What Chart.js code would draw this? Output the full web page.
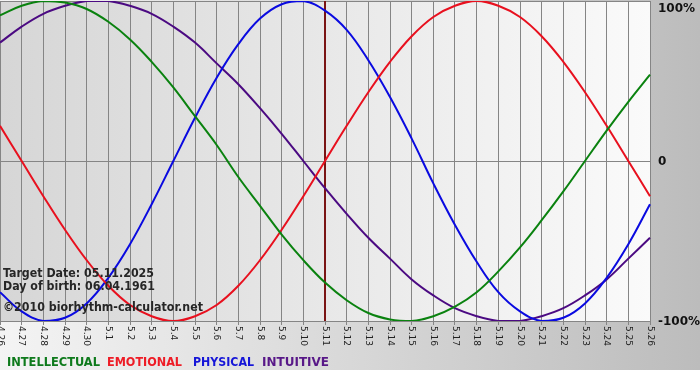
<!DOCTYPE html>
<html>
<head>
<meta charset="utf-8">
<script src="https://cdn.jsdelivr.net/npm/chart.js@4/dist/chart.umd.min.js"></script>
<style>
  html, body { margin: 0; padding: 0; background: #fff; }
  canvas { display: block; }
</style>
</head>
<body>
<canvas id="bioChart" width="700" height="380"></canvas>
<script>
// days shown on the x axis
const dayLabels = [
  "4.26", "4.27", "4.28", "4.29", "4.30",
  "5.1", "5.2", "5.3", "5.4", "5.5", "5.6", "5.7", "5.8", "5.9", "5.10",
  "5.11", "5.12", "5.13", "5.14", "5.15", "5.16", "5.17", "5.18", "5.19", "5.20",
  "5.21", "5.22", "5.23", "5.24", "5.25", "5.26",
];
const targetDay = "5.11";

// cycle values, -1 .. 1
const intellectual = [0.91, 0.97, 1.00, 0.99, 0.95, 0.87, 0.76, 0.62, 0.46, 0.28, 0.10, -0.10, -0.28, -0.46, -0.62, -0.76, -0.87, -0.95, -0.99, -1.00, -0.97, -0.91, -0.82, -0.69, -0.54, -0.37, -0.19, 0.00, 0.19, 0.37, 0.54];
const emotional = [0.22, 0.00, -0.22, -0.43, -0.62, -0.78, -0.90, -0.97, -1.00, -0.97, -0.90, -0.78, -0.62, -0.43, -0.22, 0.00, 0.22, 0.43, 0.62, 0.78, 0.90, 0.97, 1.00, 0.97, 0.90, 0.78, 0.62, 0.43, 0.22, 0.00, -0.22];
const physical = [-0.82, -0.94, -1.00, -0.98, -0.89, -0.73, -0.52, -0.27, 0.00, 0.27, 0.52, 0.73, 0.89, 0.98, 1.00, 0.94, 0.82, 0.63, 0.40, 0.14, -0.14, -0.40, -0.63, -0.82, -0.94, -1.00, -0.98, -0.89, -0.73, -0.52, -0.27];
const intuitive = [0.74, 0.84, 0.92, 0.97, 1.00, 1.00, 0.97, 0.92, 0.84, 0.74, 0.61, 0.48, 0.33, 0.17, 0.00, -0.17, -0.33, -0.48, -0.61, -0.74, -0.84, -0.92, -0.97, -1.00, -1.00, -0.97, -0.92, -0.84, -0.74, -0.61, -0.48];

const yTicks = { "1": "100%", "0": "0", "-1": "-100%" };
const infoLines = ["Target Date: 05.11.2025", "Day of birth: 06.04.1961", "©2010 biorhythm-calculator.net"];

const seriesNames = ["INTELLECTUAL", "EMOTIONAL", "PHYSICAL", "INTUITIVE"];
const seriesColors = ["#0a820f", "#e8101e", "#0a0ae0", "#4b0a82"];
const legendColors = ["#0e7a1c", "#ee1c26", "#1616d8", "#581888"];

const gridGray = "#858585";

// squeeze / stretch text to the width it has in the picture
const fitText = (ctx, text, x, y, width) => {
  const w = ctx.measureText(text).width;
  ctx.save();
  ctx.translate(x, y);
  ctx.scale(width / w, 1);
  ctx.fillText(text, 0, 0);
  ctx.restore();
};

const decor = {
  id: "decor",
  beforeDraw(chart) {
    const { ctx, chartArea: a, width, height } = chart;
    ctx.save();
    ctx.fillStyle = "#fff";
    ctx.fillRect(0, 0, width, height);
    let g = ctx.createLinearGradient(0, 0, width, 0);
    g.addColorStop(0, "#f4f4f4");
    g.addColorStop(1, "#bcbcbc");
    ctx.fillStyle = g;
    ctx.fillRect(0, 0, width, 370);
    g = ctx.createLinearGradient(a.left, 0, a.right, 0);
    g.addColorStop(0, "#d6d6d6");
    g.addColorStop(1, "#fafafa");
    ctx.fillStyle = g;
    ctx.fillRect(a.left, a.top, a.right - a.left, a.bottom - a.top);
    ctx.restore();
  },
  beforeDatasetsDraw(chart) {
    const { ctx, chartArea: a, scales } = chart;
    const x = scales.x.getPixelForValue(dayLabels.indexOf(targetDay));
    ctx.save();
    ctx.strokeStyle = "#7a1414";
    ctx.lineWidth = 2;
    ctx.beginPath();
    ctx.moveTo(x, a.top);
    ctx.lineTo(x, a.bottom);
    ctx.stroke();
    ctx.restore();
  },
  afterDraw(chart) {
    const { ctx, chartArea: a, scales } = chart;
    ctx.save();

    // x labels, rotated clockwise
    ctx.fillStyle = "#222";
    ctx.font = "9px 'DejaVu Sans'";
    ctx.textAlign = "left";
    ctx.textBaseline = "middle";
    dayLabels.forEach((lab, i) => {
      const x = scales.x.getPixelForValue(i);
      ctx.save();
      ctx.translate(x, a.bottom + 5);
      ctx.rotate(Math.PI / 2);
      ctx.fillText(lab, 0, 0);
      ctx.restore();
    });

    // y labels on the right
    ctx.fillStyle = "#111";
    ctx.font = "bold 12px 'DejaVu Sans'";
    Object.keys(yTicks).forEach((v) => {
      const y = Math.max(scales.y.getPixelForValue(Number(v)), a.top + 6.5) + 1;
      ctx.fillText(yTicks[v], a.right + 8, y);
    });

    // info text
    ctx.textBaseline = "alphabetic";
    ctx.fillStyle = "#262626";
    ctx.font = "bold 12.5px 'DejaVu Sans Condensed'";
    fitText(ctx, infoLines[0], 3, 277, 151);
    fitText(ctx, infoLines[1], 3, 290, 152);
    fitText(ctx, infoLines[2], 3, 311, 200);

    // legend
    const legendPos = [[7, 93], [107, 75], [193, 61], [262, 67]];
    ctx.font = "bold 12px 'DejaVu Sans Condensed'";
    seriesNames.forEach((name, i) => {
      ctx.fillStyle = legendColors[i];
      fitText(ctx, name, legendPos[i][0], 366, legendPos[i][1]);
    });
    ctx.restore();
  },
};

const seriesData = [intellectual, emotional, physical, intuitive];

new Chart(document.getElementById("bioChart"), {
  type: "line",
  data: {
    labels: dayLabels,
    datasets: seriesNames.map((name, i) => ({
      label: name,
      data: seriesData[i],
      borderColor: seriesColors[i],
      borderWidth: 2,
      pointRadius: 0,
      tension: 0.4,
      fill: false,
    })),
  },
  options: {
    responsive: false,
    animation: false,
    layout: { padding: { top: 1, left: 0, right: 0, bottom: 0 } },
    plugins: {
      legend: { display: false },
      tooltip: { enabled: false },
    },
    scales: {
      x: {
        offset: false,
        grid: { color: gridGray, tickLength: 4, drawTicks: true },
        border: { color: gridGray },
        ticks: { display: false },
        afterFit: (scale) => { scale.height = 59; },
      },
      y: {
        position: "right",
        min: -1,
        max: 1,
        grid: { color: gridGray, drawTicks: false },
        border: { color: gridGray },
        ticks: { display: false, stepSize: 1 },
        afterFit: (scale) => { scale.width = 50; },
      },
    },
  },
  plugins: [decor],
});
</script>
</body>
</html>
